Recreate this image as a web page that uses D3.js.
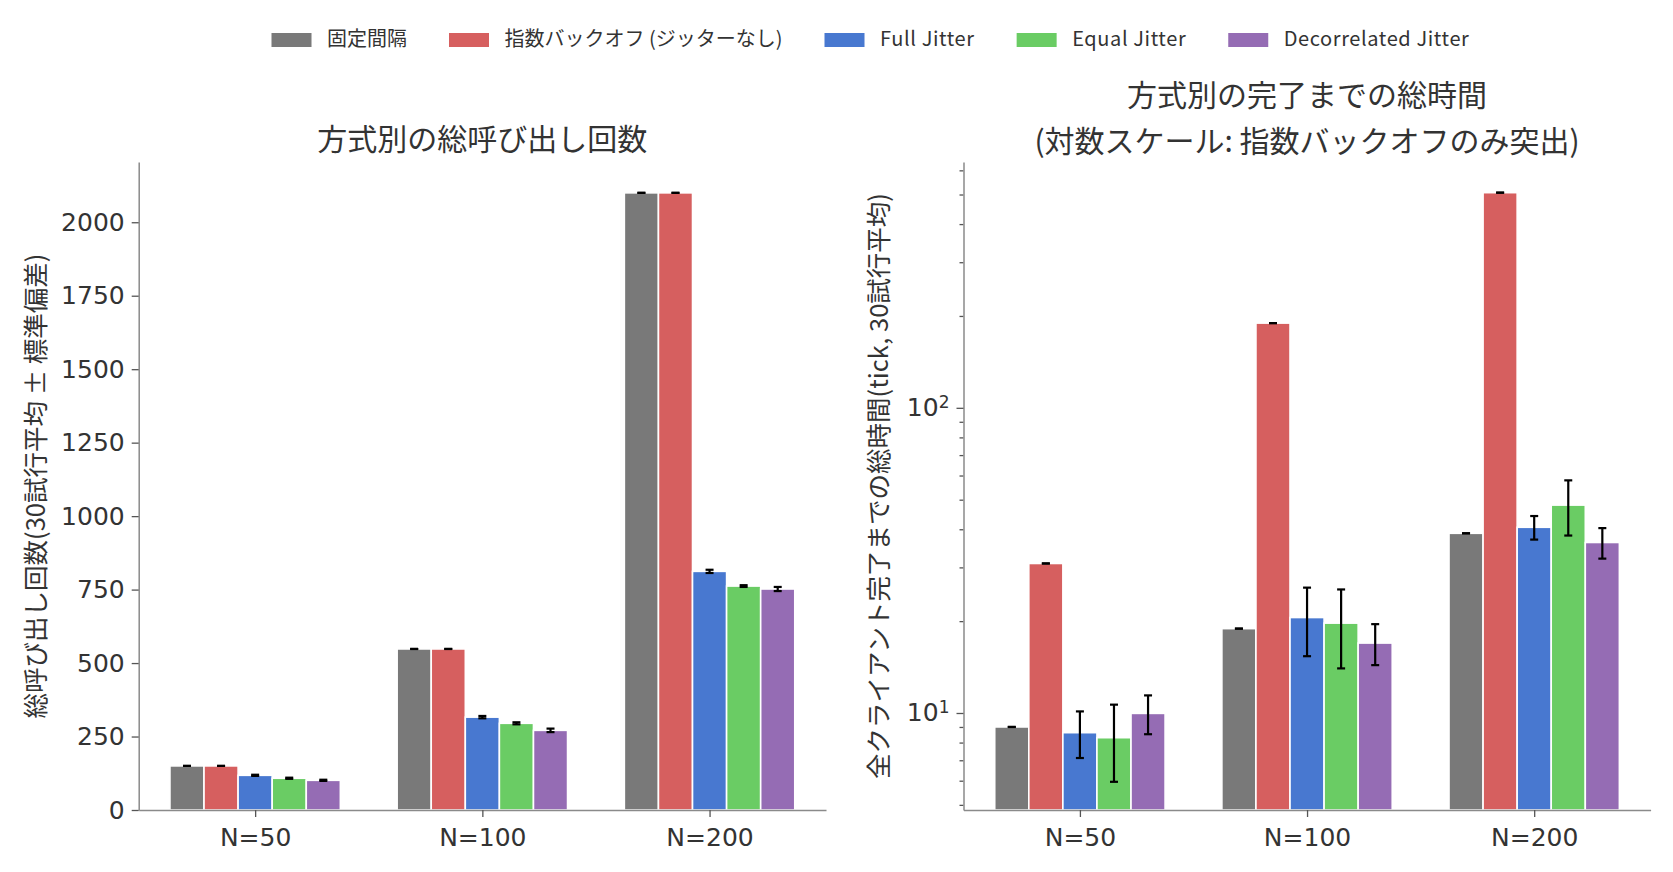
<!DOCTYPE html>
<html>
<head>
<meta charset="utf-8">
<script src="https://cdn.jsdelivr.net/npm/d3@7"></script>
<style>
  body { margin: 0; background: #fff; }
  svg { display: block; }
  .cjk { font-family: "Noto Sans CJK JP", "Noto Sans", sans-serif; fill: #333; }
  .domain { stroke: #8a8a8a; stroke-width: 1.5; }
  .tick line { stroke: #555; stroke-width: 1.3; }
</style>
</head>
<body>
<svg id="chart" width="1673" height="872"></svg>
<script>
// data
const groups = ["N=50", "N=100", "N=200"];
const strategies = ["固定間隔", "指数バックオフ (ジッターなし)", "Full Jitter", "Equal Jitter", "Decorrelated Jitter"];
const colors = ["#797979", "#d65f5f", "#4878d0", "#6acc64", "#956cb4"];

// total calls (mean, std) per strategy, per N
const callsMean = [[150, 548, 2100], [150, 548, 2100], [118, 316, 812], [108, 295, 762], [101, 271, 752]];
const callsStd  = [[0, 0, 0], [0, 0, 0], [2, 4, 5.5], [2, 3.5, 3], [2, 6, 7]];
const callTicks = [0, 250, 500, 750, 1000, 1250, 1500, 1750, 2000];

// total time to completion (ticks, mean, std)
const timeMean = [[9.0, 18.9, 38.8], [30.9, 189.5, 507], [8.62, 20.55, 40.6], [8.3, 19.7, 48.0], [9.97, 16.95, 36.2]];
const timeStd  = [[0, 0, 0], [0, 0, 0], [1.5, 5.2, 3.6], [2.35, 5.7, 9.85], [1.45, 2.6, 4.15]];
const timeMajorTicks = [10, 100];

const barW = 0.15;
const tickFont = "DejaVu Sans";
const svg = d3.select("#chart");

const panels = [
    { x0: 138.7, x1: 826, y0: 162, y1: 810 },
    { x0: 963.5, x1: 1650.6, y0: 162, y1: 810 }
];

function styleTicks(a) {
    a.selectAll(".tick text")
    .attr("font-family", tickFont)
    .attr("font-size", 25)
    .attr("fill", "#333");
}

function drawBars(g, x, y, means, stds, bottom) {
    strategies.forEach((s, si) => {
        const off = (si - 2) * barW;
        const rows = groups.map((gname, gi) => ({ gi, m: means[si][gi], sd: stds[si][gi] }));
        g.append("g").selectAll("rect")
        .data(rows)
        .join("rect")
        .attr("x", d => x(d.gi + off - barW / 2))
        .attr("width", x(barW) - x(0))
        .attr("y", d => y(d.m))
        .attr("height", d => bottom - y(d.m))
        .attr("fill", colors[si])
        .attr("stroke", "#fff")
        .attr("stroke-width", 1.6);

        const eg = g.append("g").attr("stroke", "#000").attr("stroke-width", 2.2);
        rows.forEach(d => {
            const cx = x(d.gi + off);
            const yt = y(d.m + d.sd), yb = y(d.m - d.sd);
            eg.append("line").attr("x1", cx).attr("x2", cx).attr("y1", yt).attr("y2", yb);
            eg.append("line").attr("x1", cx - 4).attr("x2", cx + 4).attr("y1", yt).attr("y2", yt);
            eg.append("line").attr("x1", cx - 4).attr("x2", cx + 4).attr("y1", yb).attr("y2", yb);
        });
    });
}

function xAxis(g, x, p) {
    g.append("g")
    .attr("transform", `translate(0,${p.y1})`)
    .call(d3.axisBottom(x).tickValues([0, 1, 2]).tickFormat(i => groups[i]).tickSize(7).tickPadding(11).tickSizeOuter(0))
    .call(styleTicks);
}

// ---- left panel: total calls
{
    const p = panels[0];
    const g = svg.append("g");
    const x = d3.scaleLinear().domain([-0.5125, 2.5125]).range([p.x0, p.x1]);
    const y = d3.scaleLinear().domain([0, 2205]).range([p.y1, p.y0]);
    drawBars(g, x, y, callsMean, callsStd, p.y1);

    g.append("g")
    .attr("transform", `translate(${p.x0},0)`)
    .call(d3.axisLeft(y).tickValues(callTicks).tickFormat(d3.format("d")).tickSize(7).tickPadding(7).tickSizeOuter(0))
    .call(styleTicks);
    xAxis(g, x, p);

    g.append("text").attr("class", "cjk")
    .attr("x", (p.x0 + p.x1) / 2).attr("y", 142)
    .attr("text-anchor", "middle").attr("dominant-baseline", "middle")
    .attr("font-size", 30)
    .text("方式別の総呼び出し回数");

    g.append("text").attr("class", "cjk")
    .attr("transform", `translate(38.5,${(p.y0 + p.y1) / 2}) rotate(-90)`)
    .attr("text-anchor", "middle").attr("dominant-baseline", "middle")
    .attr("font-size", 25.5)
    .text("総呼び出し回数(30試行平均 ± 標準偏差)");
}

// ---- right panel: total time, log scale
{
    const p = panels[1];
    const g = svg.append("g");
    const x = d3.scaleLinear().domain([-0.5125, 2.5125]).range([p.x0, p.x1]);
    const y = d3.scaleLog().domain([4.81, 639]).range([p.y1, p.y0]);
    drawBars(g, x, y, timeMean, timeStd, p.y1);

    const minor = y.ticks().filter(v => !timeMajorTicks.includes(v));
    g.append("g")
    .attr("transform", `translate(${p.x0},0)`)
    .call(d3.axisLeft(y).tickValues(minor).tickFormat("").tickSize(4).tickSizeOuter(0))
    .call(a => a.select(".domain").remove());
    g.append("g")
    .attr("transform", `translate(${p.x0},0)`)
    .call(d3.axisLeft(y).tickValues(timeMajorTicks).tickSize(7).tickPadding(7).tickSizeOuter(0))
    .call(styleTicks)
    .call(a => a.selectAll(".tick text").each(function(v) {
        const t = d3.select(this).text("");
        t.append("tspan").text("10");
        t.append("tspan").attr("dy", "-0.5em").attr("font-size", 17).text(Math.round(Math.log10(v)));
    }));
    xAxis(g, x, p);

    const title = g.append("text").attr("class", "cjk")
    .attr("text-anchor", "middle").attr("font-size", 30);
    title.append("tspan").attr("x", (p.x0 + p.x1) / 2).attr("y", 106).text("方式別の完了までの総時間");
    title.append("tspan").attr("x", (p.x0 + p.x1) / 2).attr("y", 152).text("(対数スケール: 指数バックオフのみ突出)");

    g.append("text").attr("class", "cjk")
    .attr("transform", `translate(881,${(p.y0 + p.y1) / 2}) rotate(-90)`)
    .attr("text-anchor", "middle").attr("dominant-baseline", "middle")
    .attr("font-size", 25.5)
    .text("全クライアント完了までの総時間(tick, 30試行平均)");
}

// ---- legend
{
    const lg = svg.append("g").attr("transform", "translate(271.5,40)");
    let xPos = 0;
    strategies.forEach((s, i) => {
        lg.append("rect").attr("x", xPos).attr("y", -7).attr("width", 40).attr("height", 14).attr("fill", colors[i]);
        const t = lg.append("text").attr("class", "cjk")
        .attr("x", xPos + 55.5).attr("y", 1)
        .attr("dominant-baseline", "middle")
        .attr("font-size", 20)
        .attr("letter-spacing", /^[A-Za-z ]+$/.test(s) ? 0.6 : 0)
        .text(s);
        xPos += 55.5 + t.node().getComputedTextLength() + 42;
    });
}
</script>
</body>
</html>
